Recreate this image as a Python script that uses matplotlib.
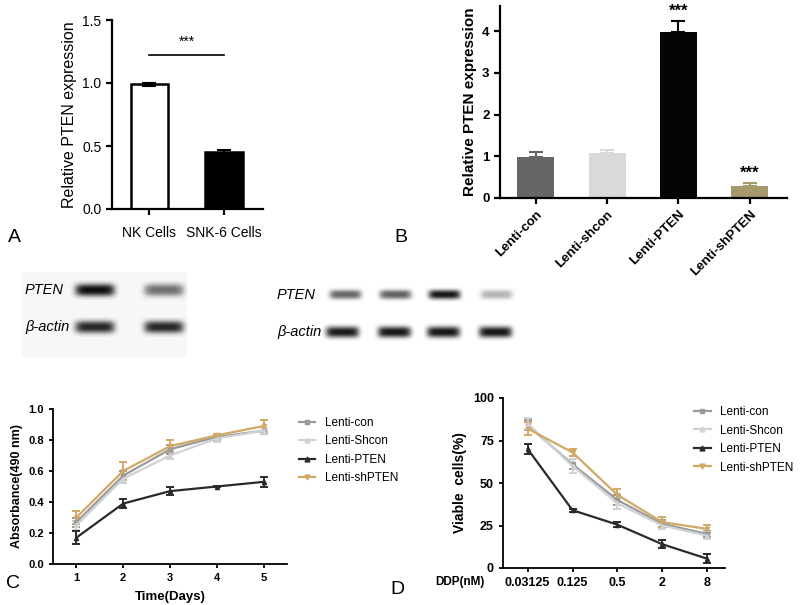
import numpy as np
import matplotlib
matplotlib.use('Agg')
import matplotlib.pyplot as plt
from matplotlib.lines import Line2D

plt.rcParams['font.family'] = ['Liberation Sans', 'DejaVu Sans']

# panel A
a_groups = ['NK Cells', 'SNK-6 Cells']
a_values = [0.99, 0.45]
a_errors = [0.01, 0.015]

# panel B
b_groups = ['Lenti-con', 'Lenti-shcon', 'Lenti-PTEN', 'Lenti-shPTEN']
b_values = [0.98, 1.08, 3.97, 0.28]
b_errors = [0.12, 0.07, 0.27, 0.09]
b_colors = ['#666666', '#d9d9d9', '#050505', '#a69a6c']

# blots (band darkness, 0..1)
blot_left_pten = [0.95, 0.55]
blot_left_actin = [0.85, 0.85]
blot_right_pten = [0.6, 0.62, 0.92, 0.3]
blot_right_actin = [0.9, 0.92, 0.92, 0.92]

# panels C and D
series = ['Lenti-con', 'Lenti-Shcon', 'Lenti-PTEN', 'Lenti-shPTEN']
colors = ['#9a9a9a', '#cfd2d6', '#2a2a2a', '#d2a865']
markers = ['s', '^', '^', 'v']

days = [1, 2, 3, 4, 5]
c_con = [0.27, 0.57, 0.74, 0.82, 0.86]
c_shcon = [0.25, 0.55, 0.70, 0.81, 0.86]
c_pten = [0.17, 0.39, 0.47, 0.50, 0.53]
c_shpten = [0.30, 0.60, 0.76, 0.83, 0.89]
c_err = [[0.03, 0.03, 0.03, 0.02, 0.02],
         [0.03, 0.03, 0.02, 0.02, 0.02],
         [0.04, 0.03, 0.025, 0.005, 0.03],
         [0.04, 0.06, 0.04, 0.01, 0.04]]

doses = ['0.03125', '0.125', '0.5', '2', '8']
d_con = [84, 61, 40, 26, 20]
d_shcon = [85, 60, 38, 25, 19]
d_pten = [70, 34, 25.5, 14, 5.5]
d_shpten = [82, 68, 43, 27, 23]
d_err = [[3, 3, 3, 2, 2],
         [3, 4, 3, 2, 2],
         [3, 1, 1.5, 2.5, 2.5],
         [4, 2, 3.5, 3, 2.5]]

W, H = 800, 605
fig = plt.figure(figsize=(8, 6.05), dpi=100)


def rect(l, t, r, b):
    return [l / W, 1 - b / H, (r - l) / W, (b - t) / H]


def style(ax, lw=1.6):
    for s in ['top', 'right']:
        ax.spines[s].set_visible(False)
    for s in ['left', 'bottom']:
        ax.spines[s].set_linewidth(lw)
    ax.tick_params(width=lw, length=4)


def legend_handles():
    return [Line2D([], [], color=c, marker=m, markersize=3.5, lw=1.6)
            for c, m in zip(colors, markers)]


# ---- A
ax = fig.add_axes(rect(112, 20, 263, 209))
ax.bar(range(2), a_values, width=0.5, color=['white', 'black'],
       edgecolor='black', linewidth=1.8, yerr=a_errors,
       error_kw=dict(ecolor='black', capsize=5, elinewidth=1.5, capthick=1.5))
ax.set_xlim(-0.5, 1.52)
ax.set_ylim(0, 1.5)
ax.set_yticks([0, 0.5, 1.0, 1.5])
ax.set_yticklabels(['0.0', '0.5', '1.0', '1.5'], fontsize=10)
ax.set_xticks(range(2))
ax.set_xticklabels(a_groups, fontsize=10)
ax.tick_params(axis='x', pad=8)
ax.set_ylabel('Relative PTEN expression', fontsize=11.5)
ax.plot([0.0, 1.0], [1.22, 1.22], color='black', lw=1.2)
ax.text(0.5, 1.27, '***', ha='center', va='bottom', fontsize=10)
style(ax)

# ---- B
ax = fig.add_axes(rect(500, 6, 787, 198))
ax.bar(range(4), b_values, width=0.52, color=b_colors)
for i, c in enumerate(b_colors):
    ax.errorbar(i, b_values[i], yerr=[[0], [b_errors[i]]], ecolor=c,
                capsize=5, elinewidth=1.5, capthick=1.5, fmt='none')
ax.set_xlim(-0.5, 3.52)
ax.set_ylim(0, 4.6)
ax.set_yticks([0, 1, 2, 3, 4])
ax.set_xticks(range(4))
ax.set_xticklabels(b_groups, rotation=45, ha='right', rotation_mode='anchor',
                   fontsize=9.5, fontweight='bold')
for lab in ax.get_yticklabels():
    lab.set_fontweight('bold')
    lab.set_fontsize(9.5)
ax.set_ylabel('Relative PTEN expression', fontsize=11, fontweight='bold')
for i in [2, 3]:
    ax.text(i, b_values[i] + b_errors[i] + 0.05, '***', ha='center',
            va='bottom', fontsize=12, fontweight='bold')
style(ax)

# ---- blots
bx = fig.add_axes([0, 0, 1, 1])
bx.axis('off')
bx.add_patch(plt.Rectangle((22, 272), 165, 85, color='#f7f7f7', lw=0, zorder=0))


def band(cx, cy, w, h, k):
    xs = np.linspace(-1.4, 1.4, 80)
    ys = np.linspace(-1.6, 1.6, 40)
    X, Y = np.meshgrid(xs, ys)
    prof = np.exp(-(np.abs(X) ** 6)) * np.exp(-(np.abs(Y) ** 2.5))
    img = np.zeros((40, 80, 4))
    img[..., 3] = k * prof
    bx.imshow(img, extent=(cx - w * 0.7, cx + w * 0.7, cy + h * 0.8, cy - h * 0.8),
              interpolation='bilinear', aspect='auto', zorder=2)


for cx, k in zip([95, 164], blot_left_pten):
    band(cx, 290, 40, 12, k)
for cx, k in zip([95, 164], blot_left_actin):
    band(cx, 327, 40, 12, k)
for cx, k in zip([345, 395, 444, 496], blot_right_pten):
    band(cx, 295, 32, 9, k)
for cx, k in zip([342, 394, 443, 495], blot_right_actin):
    band(cx, 332, 33, 11, k)
bx.set_xlim(0, W)
bx.set_ylim(H, 0)
bx.text(25, 290, 'PTEN', style='italic', fontsize=10.5, va='center')
bx.text(25, 327, 'β-actin', style='italic', fontsize=10.5, va='center')
bx.text(277, 295, 'PTEN', style='italic', fontsize=10.5, va='center')
bx.text(277, 332, 'β-actin', style='italic', fontsize=10.5, va='center')

bx.text(8, 237, 'A', fontsize=14, va='center')
bx.text(394, 237, 'B', fontsize=14, va='center')
bx.text(6, 583, 'C', fontsize=14, va='center')
bx.text(390, 590, 'D', fontsize=14, va='center')

# ---- C
ax = fig.add_axes(rect(53, 409, 287, 564))
c_all = [c_con, c_shcon, c_pten, c_shpten]
for vals, err, col, m in zip(c_all, c_err, colors, markers):
    ax.errorbar(days, vals, yerr=err, color=col, marker=m, markersize=3,
                lw=1.6, capsize=3, elinewidth=1.4, capthick=1.4)
ax.set_xlim(0.5, 5.5)
ax.set_ylim(0, 1.0)
ax.set_xticks(days)
ax.set_yticks([0, 0.2, 0.4, 0.6, 0.8, 1.0])
ax.set_yticklabels(['0.0', '0.2', '0.4', '0.6', '0.8', '1.0'])
for lab in ax.get_xticklabels() + ax.get_yticklabels():
    lab.set_fontweight('bold')
    lab.set_fontsize(8)
ax.set_xlabel('Time(Days)', fontsize=9.5, fontweight='bold', labelpad=6)
ax.set_ylabel('Absorbance(490 nm)', fontsize=9, fontweight='bold')
style(ax, 1.3)
ax.tick_params(length=3)
ax.legend(legend_handles(), series, loc='upper left',
          bbox_to_anchor=(1.03, 0.98), frameon=False, fontsize=8.5,
          handlelength=1.4, labelspacing=0.55, borderaxespad=0)

# ---- D
ax = fig.add_axes(rect(503, 398, 725, 568))
d_all = [d_con, d_shcon, d_pten, d_shpten]
xpos = list(range(len(doses)))
for vals, err, col, m in zip(d_all, d_err, colors, markers):
    ax.errorbar(xpos, vals, yerr=err, color=col, marker=m, markersize=3,
                lw=1.6, capsize=3, elinewidth=1.4, capthick=1.4)
ax.set_xlim(-0.55, 4.4)
ax.set_ylim(0, 100)
ax.set_xticks(xpos)
ax.set_xticklabels(doses)
ax.set_yticks([0, 25, 50, 75, 100])
for lab in ax.get_xticklabels() + ax.get_yticklabels():
    lab.set_fontweight('bold')
    lab.set_fontsize(9)
ax.set_ylabel('Viable  cells(%)', fontsize=10, fontweight='bold')
style(ax, 1.3)
ax.tick_params(length=3)
ax.legend(legend_handles(), series, loc='upper left',
          bbox_to_anchor=(0.84, 0.98), frameon=False, fontsize=8.5,
          handlelength=1.4, labelspacing=0.55, borderaxespad=0)
bx.text(435, 582, 'DDP(nM)', fontsize=8.5, fontweight='bold', va='center')

fig.savefig('out.png', dpi=100)
